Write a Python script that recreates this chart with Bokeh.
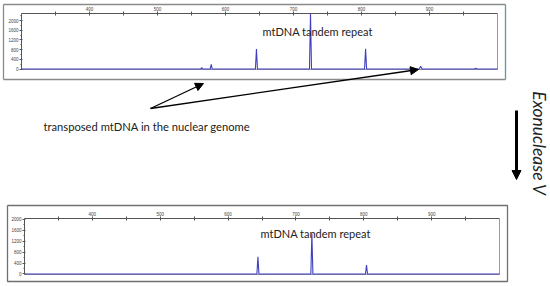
import math
import numpy as np
from bokeh.plotting import figure
from bokeh.models import Range1d, FixedTicker, Label, Arrow, NormalHead
from bokeh.layouts import column
from bokeh.embed import file_html
from bokeh.resources import INLINE

# ---------------- data (fragment size in bp, signal in RFU) ----------------
x_ticks = [400, 500, 600, 700, 800, 900]
x_minor = [350, 450, 550, 650, 750, 850, 950]
y_ticks = [0, 400, 800, 1200, 1600, 2000]
y_minor_top = [200, 600, 1000, 1400, 1800, 2200]
y_minor_bottom = [200, 600, 1000, 1400, 1800]

before_bp = [300, 563.5, 565, 566.5, 577.5, 579, 580.5, 644, 645.5, 647,
             723.5, 725, 726.5, 804.5, 806, 807.5, 885, 887, 889, 966, 968, 970, 1000]
before_rfu = [0, 0, 60, 0, 0, 190, 0, 0, 820, 0,
              0, 3000, 0, 0, 830, 0, 0, 110, 0, 0, 30, 0, 0]

after_bp = [300, 642.5, 644, 645.5, 722, 723.5, 725, 802.5, 804, 805.5, 1000]
after_rfu = [0, 0, 630, 0, 0, 1480, 0, 0, 330, 0, 0]

peak_label = "mtDNA tandem repeat"
numt_label = "transposed mtDNA in the nuclear genome"
enzyme_label = "Exonuclease V"

TRACE = "#3f3fc0"
W = 550
BP0, BP1 = 300, 1000


def style_axes(p, y_top, y_bottom, y_minor):
    p.toolbar_location = None
    p.xgrid.visible = False
    p.ygrid.visible = False
    p.outline_line_color = None
    p.background_fill_color = "white"
    p.border_fill_color = "white"
    for ax in p.xaxis:
        ax.fixed_location = y_top
        ax.bounds = (BP0, BP1)
        ax.ticker = FixedTicker(ticks=x_ticks, minor_ticks=x_minor)
        ax.major_tick_in = 2
        ax.major_tick_out = 2
        ax.minor_tick_in = 2
        ax.minor_tick_out = 2
        ax.major_label_standoff = 1
    for ax in p.yaxis:
        ax.fixed_location = BP0
        ax.bounds = (y_bottom, y_top)
        ax.ticker = FixedTicker(ticks=y_ticks, minor_ticks=y_minor)
        ax.major_tick_in = 1
        ax.major_tick_out = 2
        ax.minor_tick_in = 0
        ax.minor_tick_out = 1
        ax.major_label_standoff = 1
    for ax in list(p.xaxis) + list(p.yaxis):
        ax.axis_line_color = "#555555"
        ax.major_tick_line_color = "#555555"
        ax.minor_tick_line_color = "#555555"
        ax.major_label_text_font = "Liberation Sans"
        ax.major_label_text_font_size = "4.5px"
        ax.major_label_text_color = "#444444"
    # right and bottom edges of the plotting area
    p.line([BP1, BP1, BP0], [y_top, y_bottom, y_bottom], line_color="#9a9a9a", line_width=1)


# ---------------- top panel (before digestion) ----------------
# plotting area: 300..1000 bp over 476 px, -20..2290 RFU over 56 px
T_Y0, T_Y1 = -20, 2290
tk_x = 476 / (BP1 - BP0)
tk_y = 56 / (T_Y1 - T_Y0)

def tx(rx):
    return BP0 + (rx - 21) / tk_x

def ty(ry):
    return T_Y0 + (69 - ry) / tk_y

top = figure(width=W, height=200, output_backend="svg", toolbar_location=None, title=None,
             x_range=Range1d(tx(0), tx(W)), y_range=Range1d(ty(200), ty(0)),
             x_axis_location="above", min_border=0)
style_axes(top, T_Y1, T_Y0, y_minor_top)
top.line(before_bp, np.minimum(before_rfu, T_Y1), line_color=TRACE, line_width=1.1)

# outer box
top.line([tx(3), tx(505)], [ty(79), ty(79)], line_color="#8a8a8a", line_width=1.3)
top.line([tx(3), tx(505)], [ty(4), ty(4)], line_color="#8a8a8a", line_width=1.3)
top.line([tx(3), tx(3)], [ty(4), ty(79)], line_color="#8a8a8a", line_width=1.3)
top.line([tx(505), tx(505)], [ty(4), ty(79)], line_color="#5d9c9c", line_width=1.3)

top.add_layout(Label(x=tx(262), y=ty(31), text=peak_label, text_font="Lato",
                     text_font_size="11px", text_color="#222222",
                     text_baseline="middle", text_align="left"))

# pointer arrows
for ex, ey in [(203, 83), (418, 69)]:
    top.add_layout(Arrow(x_start=tx(150), y_start=ty(108), x_end=tx(ex), y_end=ty(ey),
                         line_color="black", line_width=1.3,
                         end=NormalHead(size=8, fill_color="black", line_color="black")))

top.add_layout(Label(x=tx(43), y=ty(126), text=numt_label, text_font="Lato",
                     text_font_size="11.2px", text_color="#222222",
                     text_baseline="middle", text_align="left"))

# enzyme arrow and label
top.add_layout(Arrow(x_start=tx(516), y_start=ty(110), x_end=tx(516), y_end=ty(179),
                     line_color="black", line_width=3,
                     end=NormalHead(size=9, fill_color="black", line_color="black")))
top.add_layout(Label(x=tx(539), y=ty(143), text=enzyme_label, text_font="Lato",
                     text_font_style="italic", text_font_size="17.5px", text_color="#222222",
                     angle=-math.pi / 2, text_baseline="middle", text_align="center"))

# ---------------- bottom panel (after digestion) ----------------
B_Y0, B_Y1 = -20, 2030
bk_x = 475 / (BP1 - BP0)
bk_y = 56 / (B_Y1 - B_Y0)

def bx(rx):
    return BP0 + (rx - 24) / bk_x

def by(ry):
    return B_Y0 + (274 - ry) / bk_y

bot = figure(width=W, height=86, output_backend="svg", toolbar_location=None, title=None,
             x_range=Range1d(bx(0), bx(W)), y_range=Range1d(by(286), by(200)),
             x_axis_location="above", min_border=0)
style_axes(bot, B_Y1, B_Y0, y_minor_bottom)
bot.line(after_bp, after_rfu, line_color=TRACE, line_width=1.1)

bot.line([bx(7), bx(507), bx(507), bx(7), bx(7)],
         [by(205), by(205), by(281), by(281), by(205)], line_color="#707070", line_width=1.3)
bot.add_layout(Label(x=bx(260), y=by(233), text=peak_label, text_font="Lato",
                     text_font_size="11px", text_color="#222222",
                     text_baseline="middle", text_align="left"))

layout = column(top, bot, spacing=0)
open("out.html", "w").write(file_html(layout, INLINE))
